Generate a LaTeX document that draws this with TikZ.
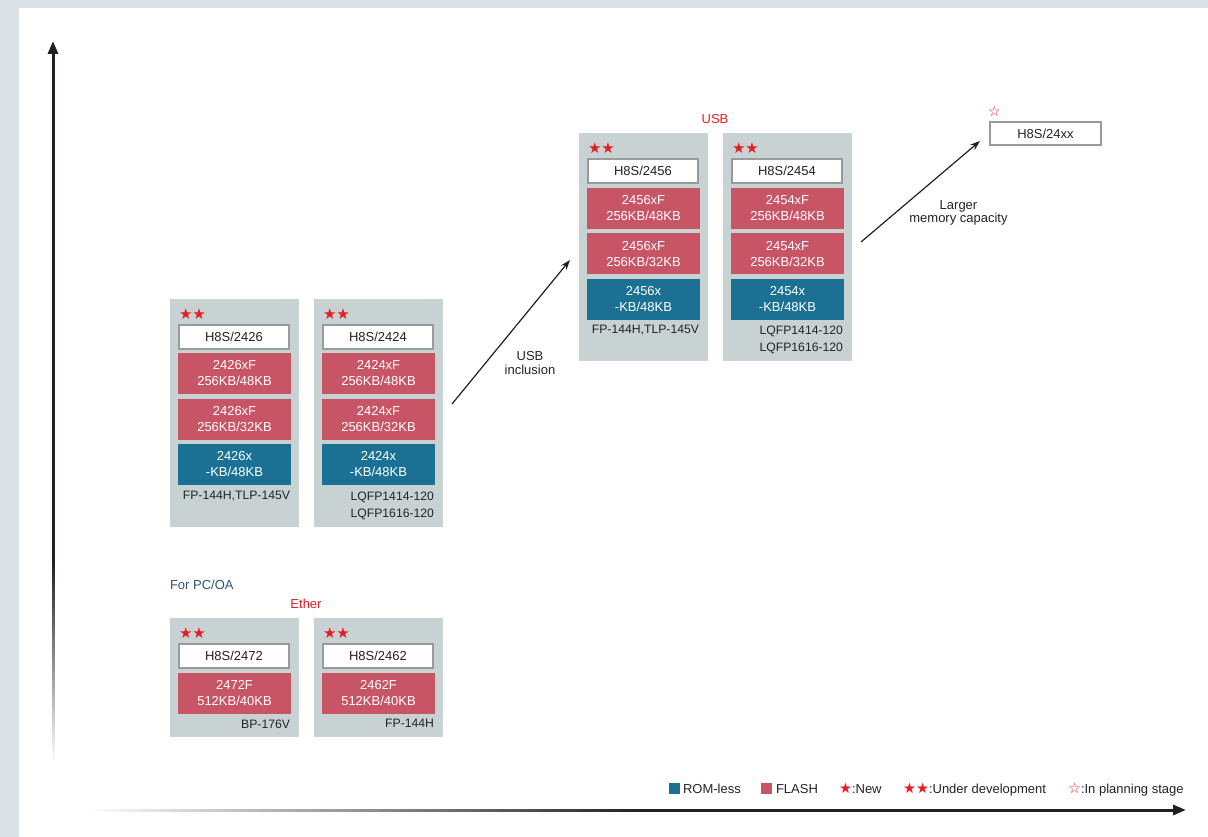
\documentclass[tikz,border=0pt]{standalone}
\usepackage{fontspec}
\setmainfont{Liberation Sans}
\newfontfamily\symfont{DejaVu Sans}
\usetikzlibrary{arrows.meta}
\definecolor{bggray}{RGB}{218,226,232}
\definecolor{boxgray}{RGB}{200,210,211}
\definecolor{flashred}{RGB}{200,85,101}
\definecolor{romblue}{RGB}{27,113,148}
\definecolor{edgegray}{RGB}{152,154,158}
\definecolor{txtdark}{RGB}{35,35,35}
\definecolor{starred}{RGB}{232,28,36}
\definecolor{pcblue}{RGB}{45,84,117}
\definecolor{axisdark}{RGB}{35,31,32}
\newcommand\legstar[1]{{\symfont\fontsize{14.5}{14.5}\selectfont\color{starred}#1}}
\begin{document}
\begin{tikzpicture}[x=1pt,y=-1pt,
  every node/.style={inner sep=0pt, outer sep=0pt, text=txtdark, font=\fontsize{13}{13}\selectfont},
  groupbox/.style={fill=boxgray, anchor=north west, minimum width=129pt},
  stars/.style={anchor=west, text=starred, font=\symfont\fontsize{15}{15}\selectfont},
  namebox/.style={draw=edgegray, line width=2pt, fill=white, minimum width=110pt, minimum height=24pt, font=\fontsize{13}{16}\selectfont},
  flashbox/.style={fill=flashred, text=white, minimum width=113pt, minimum height=41pt, align=center, font=\fontsize{13}{16}\selectfont},
  rombox/.style={fill=romblue, text=white, minimum width=113pt, minimum height=41pt, align=center, font=\fontsize{13}{16}\selectfont},
  pkgtext/.style={anchor=north east, align=right, font=\fontsize{12.2}{17}\selectfont},
  steparrow/.style={draw=axisdark, line width=1.2pt, -{Stealth[length=10pt,width=7pt]}},
  axisline/.style={draw=axisdark, line width=3pt},
  fadeseg/.style={line width=3pt, line cap=butt},
  legsq/.style={anchor=north west, minimum width=11pt, minimum height=11pt},
  legtext/.style={anchor=base west, font=\fontsize{13}{13}\selectfont}
]
\useasboundingbox (0,0) rectangle (1208,837);
% background
\fill[bggray] (0,0) rectangle (1208,837);
\fill[white] (19,8) rectangle (1208,837);

% axes (faded tails drawn as short segments)
\foreach \i in {0,...,40} {
  \pgfmathsetmacro\pct{100-\i*2.5}
  \draw[fadeseg, draw=axisdark!\pct!white] (53,560+\i*5) -- (53,566+\i*5);
}
\coordinate (ysolid) at (53,562);
\coordinate (ytip) at (53,41);
\draw[axisline, -{Triangle[length=13pt,width=10pt]}] (ysolid) -- (ytip);
\foreach \i in {0,...,56} {
  \pgfmathsetmacro\pct{\i*100/56}
  \draw[fadeseg, draw=axisdark!\pct!white] (80+\i*10,810) -- (91+\i*10,810);
}
\coordinate (xsolid) at (648,810);
\coordinate (xtip) at (1186,810);
\draw[axisline, -{Triangle[length=13pt,width=10pt]}] (xsolid) -- (xtip);

% group A
\begin{scope}[shift={(170,299)}]
\node[groupbox, minimum height=228pt] (gA) at (0,0) {};
\node[stars] (gAstars) at (9,15) {★★};
\node[namebox] (gAname) at (64,38) {H8S/2426};
\node[flashbox] (gAf1) at (64.5,74.5) {2426xF\\256KB/48KB};
\node[flashbox] (gAf2) at (64.5,120.5) {2426xF\\256KB/32KB};
\node[rombox] (gAr) at (64.5,165.5) {2426x\\-KB/48KB};
\node[pkgtext] (gAp) at (120,192.5) {FP-144H,TLP-145V};
\end{scope}

% group B
\begin{scope}[shift={(314,299)}]
\node[groupbox, minimum height=228pt] (gB) at (0,0) {};
\node[stars] (gBstars) at (9,15) {★★};
\node[namebox] (gBname) at (64,38) {H8S/2424};
\node[flashbox] (gBf1) at (64.5,74.5) {2424xF\\256KB/48KB};
\node[flashbox] (gBf2) at (64.5,120.5) {2424xF\\256KB/32KB};
\node[rombox] (gBr) at (64.5,165.5) {2424x\\-KB/48KB};
\node[pkgtext] (gBp) at (120,192.5) {LQFP1414-120\\LQFP1616-120};
\end{scope}

% group C
\begin{scope}[shift={(579,133)}]
\node[groupbox, minimum height=228pt] (gC) at (0,0) {};
\node[stars] (gCstars) at (9,15) {★★};
\node[namebox] (gCname) at (64,38) {H8S/2456};
\node[flashbox] (gCf1) at (64.5,75.5) {2456xF\\256KB/48KB};
\node[flashbox] (gCf2) at (64.5,121) {2456xF\\256KB/32KB};
\node[rombox] (gCr) at (64.5,166.5) {2456x\\-KB/48KB};
\node[pkgtext] (gCp) at (120,192.5) {FP-144H,TLP-145V};
\end{scope}

% group D
\begin{scope}[shift={(723,133)}]
\node[groupbox, minimum height=228pt] (gD) at (0,0) {};
\node[stars] (gDstars) at (9,15) {★★};
\node[namebox] (gDname) at (64,38) {H8S/2454};
\node[flashbox] (gDf1) at (64.5,75.5) {2454xF\\256KB/48KB};
\node[flashbox] (gDf2) at (64.5,121) {2454xF\\256KB/32KB};
\node[rombox] (gDr) at (64.5,166.5) {2454x\\-KB/48KB};
\node[pkgtext] (gDp) at (120,192.5) {LQFP1414-120\\LQFP1616-120};
\end{scope}

% group E
\begin{scope}[shift={(170,618)}]
\node[groupbox, minimum height=119pt] (gE) at (0,0) {};
\node[stars] (gEstars) at (9,15) {★★};
\node[namebox] (gEname) at (64,38) {H8S/2472};
\node[flashbox] (gEf1) at (64.5,75.5) {2472F\\512KB/40KB};
\node[pkgtext] (gEp) at (120,101.5) {BP-176V};
\end{scope}

% group F
\begin{scope}[shift={(314,618)}]
\node[groupbox, minimum height=119pt] (gF) at (0,0) {};
\node[stars] (gFstars) at (9,15) {★★};
\node[namebox] (gFname) at (64,38) {H8S/2462};
\node[flashbox] (gFf1) at (64.5,75.5) {2462F\\512KB/40KB};
\node[pkgtext] (gFp) at (120,101.5) {FP-144H};
\end{scope}

% planned device
\node[namebox, minimum width=111pt, minimum height=23pt] (gG) at (1045.5,133.5) {H8S/24xx};
\node[text=starred, font=\symfont\fontsize{14}{14}\selectfont] (gGstar) at (994.5,111) {☆};

% labels
\node[text=starred] (usblbl) at (715,119) {USB};
\node[text=starred] (etherlbl) at (306,604) {Ether};
\node[anchor=west, text=pcblue] (pcoalbl) at (170,585) {For PC/OA};

% step arrows
\coordinate (usbS) at (452,404);
\coordinate (usbE) at (570,260);
\draw[steparrow] (usbS) -- (usbE);
\node[align=center, font=\fontsize{13}{13.5}\selectfont] (usbinc) at (530,363) {USB\\inclusion};
\coordinate (memS) at (861,242);
\coordinate (memE) at (980,141);
\draw[steparrow] (memS) -- (memE);
\node[align=center, font=\fontsize{13}{13}\selectfont] (memlbl) at (958.5,213) {Larger\\memory capacity};

% legend
\node[legsq, fill=romblue] (legrom) at (669,783) {};
\node[legtext] (legromt) at (683,793.5) {ROM-less};
\node[legsq, fill=flashred] (legfl) at (761,783) {};
\node[legtext] (legflt) at (776,793.5) {FLASH};
\node[legtext] (legnew) at (839,793.5) {\legstar{★}:New};
\node[legtext] (legdev) at (903,793.5) {\legstar{★★}:Under development};
\node[legtext] (legplan) at (1068,793.5) {\legstar{☆}:In planning stage};
\end{tikzpicture}
\end{document}
